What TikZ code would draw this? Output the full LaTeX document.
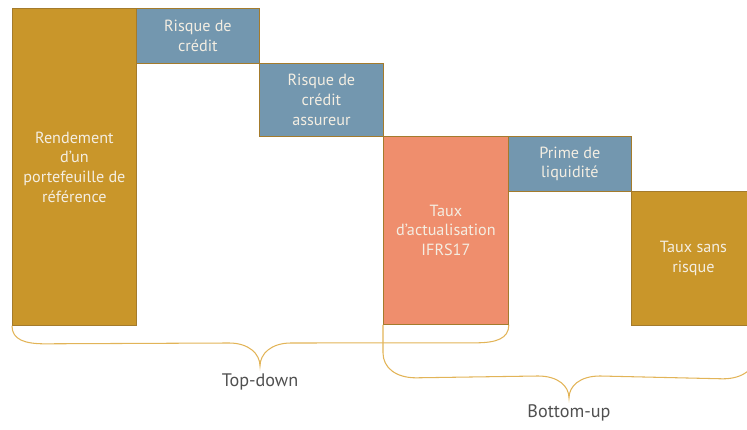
\documentclass[tikz,border=0pt]{standalone}
\usepackage{fontspec}
\setmainfont{PT Sans}
\usepackage{tikz}
\usetikzlibrary{positioning, calc}
\definecolor{goldbar}{HTML}{C9962A}
\definecolor{bluebar}{HTML}{7397AF}
\definecolor{salmonbar}{HTML}{EF8E6D}
\definecolor{barline}{HTML}{A47B2C}
\definecolor{bracecol}{HTML}{E2B458}
\definecolor{boxtext}{HTML}{F4EEE2}
\definecolor{lbltext}{HTML}{505050}
\tikzset{
    barbox/.style={draw=barline, line width=0.7pt, rectangle, anchor=north west, inner sep=2pt,
        text=boxtext, align=center, font=\fontsize{13.8}{16.8}\selectfont},
    goldbox/.style={barbox, fill=goldbar},
    bluebox/.style={barbox, fill=bluebar},
    salmonbox/.style={barbox, fill=salmonbar},
    bracket/.style={draw=bracecol, line width=0.9pt},
    lbl/.style={text=lbltext, font=\fontsize{15.5}{18}\selectfont},
}

\begin{document}
\begin{tikzpicture}[x=0.03cm, y=-0.03cm]
\useasboundingbox (0,0) rectangle (747,430);
% bars
\node[goldbox, minimum width=124*0.03cm, minimum height=317*0.03cm] (rendement) at (12,8) {Rendement\\d'un\\portefeuille de\\référence};
\node[bluebox, minimum width=123*0.03cm, minimum height=55*0.03cm] (credit) at (136,8) {Risque de\\crédit};
\node[bluebox, minimum width=124*0.03cm, minimum height=73*0.03cm] (assureur) at (259,63) {Risque de\\crédit\\assureur};
\node[salmonbox, minimum width=125*0.03cm, minimum height=188*0.03cm] (ifrs) at (383,136) {Taux\\d'actualisation\\IFRS17};
\node[bluebox, minimum width=123*0.03cm, minimum height=55*0.03cm] (liquidite) at (508,136) {Prime de\\liquidité};
\node[goldbox, minimum width=124*0.03cm, minimum height=134*0.03cm] (sansrisque) at (631,191) {Taux sans\\risque};
% labels
\node[lbl] (topdown) at (260,382) {Top-down};
\node[lbl] (bottomup) at (569,413) {Bottom-up};
\coordinate (tdtip) at (260,366);
\coordinate (butip) at (569,398);
% braces
\draw[bracket] (rendement.south west) .. controls +(0,14) and +(-20,0) .. ($(rendement.south west)+(33,18)$)
    -- ($(tdtip)+(-31,-23)$) .. controls +(20,0) and +(0,-12) .. (tdtip)
    .. controls +(0,-12) and +(-20,0) .. ($(tdtip)+(31,-23)$)
    -- ($(ifrs.south east)+(-33,18)$) .. controls +(20,0) and +(0,14) .. (ifrs.south east);
\draw[bracket] (ifrs.south west) -- ++(0,28) .. controls +(0,15) and +(-20,0) .. ($(ifrs.south west)+(33,53)$)
    -- ($(butip)+(-31,-22)$) .. controls +(20,0) and +(0,-12) .. (butip)
    .. controls +(0,-12) and +(-20,0) .. ($(butip)+(31,-22)$)
    -- ($(sansrisque.south east)+(-33,53)$) .. controls +(20,0) and +(0,15) .. ($(sansrisque.south east)+(0,28)$)
    -- (sansrisque.south east);
\end{tikzpicture}
\end{document}
